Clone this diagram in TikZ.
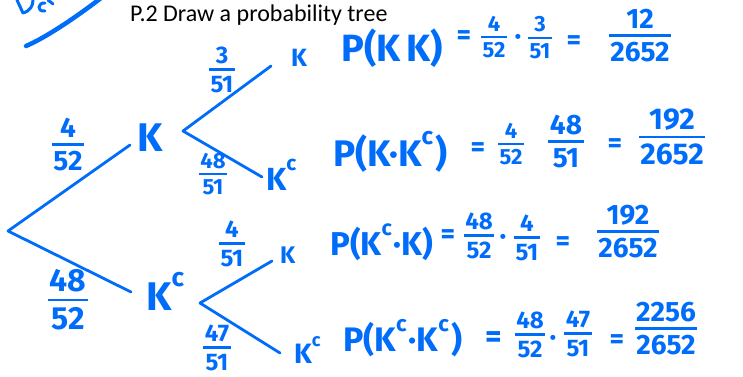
\documentclass[tikz,border=0pt]{standalone}
\usepackage{fontspec}
\usepackage{graphicx}
\setmainfont{Fira Sans}
\newfontfamily\titlefont{Carlito}
\definecolor{ink}{RGB}{0,108,250}
\newcommand{\hfr}[2]{{\setlength{\arrayrulewidth}{2.6pt}\renewcommand{\arraystretch}{0.7}\begin{tabular}{@{\hspace{1.5pt}}c@{\hspace{1.5pt}}}#1\\\hline \rule{0pt}{0.88em}#2\end{tabular}}}
\newcommand{\Kc}{K\raisebox{0.6em}{\scalebox{0.65}{c}}\kern0.06em}
\tikzset{
  hw/.style={text=ink, inner sep=0pt, font=\bfseries\fontsize{#1}{#1}\selectfont},
  hw/.default=24,
  br/.style={draw=ink, line width=2.8pt, line cap=round, line join=round},
}
\begin{document}
\begin{tikzpicture}[x=1pt,y=-1pt]
\useasboundingbox (0,0) rectangle (743,376);
% title
\node[anchor=base west, inner sep=0pt, font=\titlefont\fontsize{24}{24}\selectfont] (title) at (130,21) {P.2 Draw a probability tree};
% top-left scribble
\draw[br, line width=3pt] (17,0) .. controls (20,6) .. (23,13) .. controls (30,11) and (33,6) .. (33,0);
\draw[br, line width=3pt] (45,3) .. controls (38,2) and (36,12) .. (45,11);
\draw[br, line width=3pt] (48,0) -- (53,4);
\draw[br, line width=4.5pt] (26,46) .. controls (45,38) and (75,18) .. (101,-2);
% tree
\coordinate (root) at (8,231);
\coordinate (k1in) at (130,145);
\coordinate (k2in) at (131,292);
\node[hw=40] (K1) at (150,138) {K};
\node[hw=40, anchor=base west] (K2) at (146,310) {\Kc};
\draw[br] (root) -- (k1in);
\draw[br] (root) -- (k2in);
\coordinate (f1) at (183,131);
\coordinate (f2) at (200,303);
\coordinate (l1in) at (271,66);
\coordinate (l2in) at (262,177);
\coordinate (l3in) at (272,261);
\coordinate (l4in) at (280,353);
\draw[br] (l1in) -- (f1) -- (l2in);
\draw[br] (l3in) -- (f2) -- (l4in);
\node[hw=25] (L1) at (299,58) {K};
\node[hw=32, anchor=base west] (L2) at (266,190) {\Kc};
\node[hw=24, anchor=base west] (L3) at (280,263) {K};
\node[hw=28, anchor=base west] (L4) at (294,363) {\Kc};
% branch labels
\node[hw=28] (b1) at (68,147) {\hfr{4}{52}};
\node[hw=32] (b2) at (68,303) {\hfr{48}{52}};
\node[hw=24] (b3) at (222,72) {\hfr{3}{51}};
\node[hw=22] (b4) at (213,176) {\hfr{48}{51}};
\node[hw=24] (b5) at (232,246) {\hfr{4}{51}};
\node[hw=24] (b6) at (217,350) {\hfr{47}{51}};
% row 1
\node[hw=38, anchor=west] (r1l) at (341,48) {P(K\,K)};
\node[hw=28] (r1e1) at (464,38) {=};
\node[hw=22] (r1f1) at (494,39) {\hfr{4}{52}};
\node[hw=28] (r1d) at (518,40) {·};
\node[hw=22] (r1f2) at (540,40) {\hfr{3}{51}};
\node[hw=28] (r1e2) at (574,43) {=};
\node[hw=28] (r1f3) at (640,38) {\hfr{\,12\,}{2652}};
% row 2
\node[hw=37, anchor=west] (r2l) at (333,152) {P(K·\Kc)};
\node[hw=28] (r2e1) at (478,150) {=};
\node[hw=22] (r2f1) at (511,146) {\hfr{4}{52}};
\node[hw=28] (r2f2) at (566,144) {\hfr{48}{51}};
\node[hw=28] (r2e2) at (615,146) {=};
\node[hw=30] (r2f3) at (672,140) {\hfr{192}{2652}};
% row 3
\node[hw=33, anchor=west] (r3l) at (330,242) {P(\Kc·K)};
\node[hw=28] (r3e1) at (448,237) {=};
\node[hw=24] (r3f1) at (479,238) {\hfr{48}{52}};
\node[hw=28] (r3d) at (503,240) {·};
\node[hw=24] (r3f2) at (527,240) {\hfr{4}{51}};
\node[hw=28] (r3e2) at (563,244) {=};
\node[hw=28] (r3f3) at (628,234) {\hfr{192}{2652}};
% row 4
\node[hw=34, anchor=west] (r4l) at (343,338) {P(\Kc·\Kc)};
\node[hw=32] (r4e1) at (494,340) {=};
\node[hw=24] (r4f1) at (530,337) {\hfr{48}{52}};
\node[hw=28] (r4d) at (553,341) {·};
\node[hw=24] (r4f2) at (578,336) {\hfr{47}{51}};
\node[hw=28] (r4e2) at (617,342) {=};
\node[hw=28] (r4f3) at (666,331) {\hfr{2256}{2652}};
\end{tikzpicture}
\end{document}
